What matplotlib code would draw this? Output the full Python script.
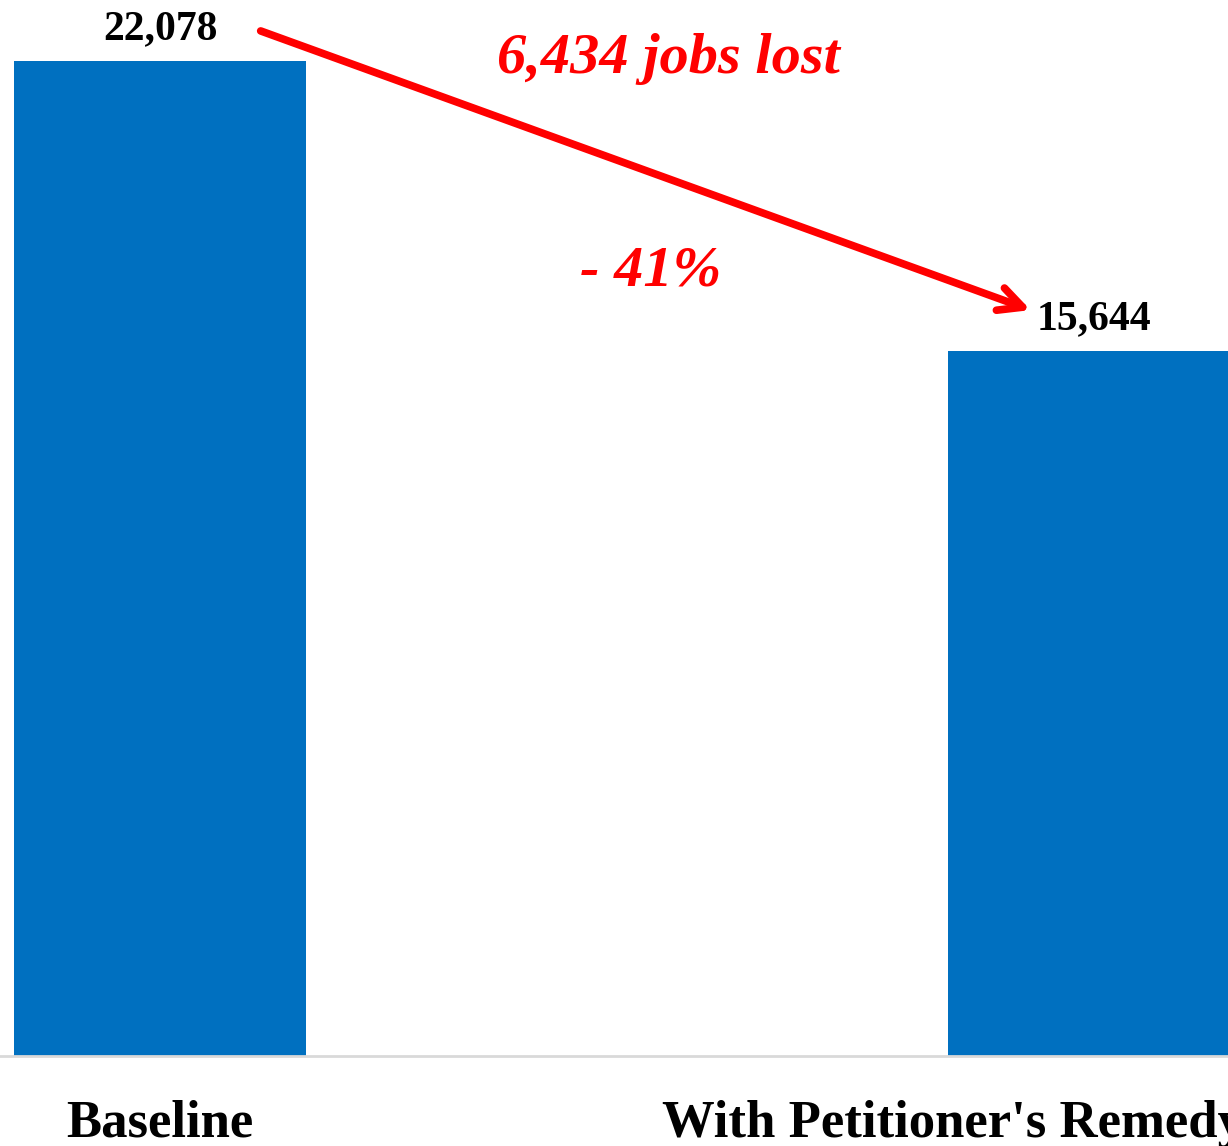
import numpy as np
import matplotlib.pyplot as plt

# jobs before / after the remedy
categories = ["Baseline", "With Petitioner's Remedy"]
jobs = [22078, 15644]
change_label = "6,434 jobs lost"
pct_label = "- 41%"

plt.rcParams['font.family'] = ['Liberation Serif', 'DejaVu Serif']

fig = plt.figure(figsize=(12.28, 11.46), dpi=100)
ax = fig.add_axes([0, 90/1146, 1, 1056/1146])

x = np.arange(len(jobs))
ax.bar(x, jobs, width=0.3126, color='#0070C0', zorder=2)
ax.set_xlim(-0.1713, 1.1435)
ax.set_ylim(0, jobs[0] * 1056 / 995)

for s in ['top', 'right', 'left']:
    ax.spines[s].set_visible(False)
ax.spines['bottom'].set_color('#d9d9d9')
ax.spines['bottom'].set_linewidth(2)
ax.set_yticks([])
ax.set_xticks([])

# value labels above bars
for xi, v in zip(x, jobs):
    ax.annotate(f"{v:,}", xy=(xi, v), xytext=(0, 16), textcoords='offset points',
                ha='center', va='baseline', fontsize=30, fontweight='bold')

# category labels under the axis
ax.annotate(categories[0], xy=(x[0], 0), xytext=(0, -58), textcoords='offset points',
            ha='center', va='baseline', fontsize=38, fontweight='bold', annotation_clip=False)
ax.annotate(categories[1], xy=(0.5375, 0), xytext=(0, -58), textcoords='offset points',
            ha='left', va='baseline', fontsize=38, fontweight='bold', annotation_clip=False)

# red arrow between the bars
ax.annotate('', xy=(0.935, 16530), xytext=(0.105, 22766),
            arrowprops=dict(arrowstyle='->, head_length=1.7, head_width=0.85',
                            color='red', lw=5.5, capstyle='round', joinstyle='round'))

ax.text(0.544, 22078 * (1056 - 73) / 995, change_label, color='red', fontsize=42,
        fontweight='bold', fontstyle='italic', ha='center', va='baseline')
ax.text(0.525, 22078 * (1056 - 285) / 995, pct_label, color='red', fontsize=42,
        fontweight='bold', fontstyle='italic', ha='center', va='baseline')

fig.savefig('out.png', dpi=100)
